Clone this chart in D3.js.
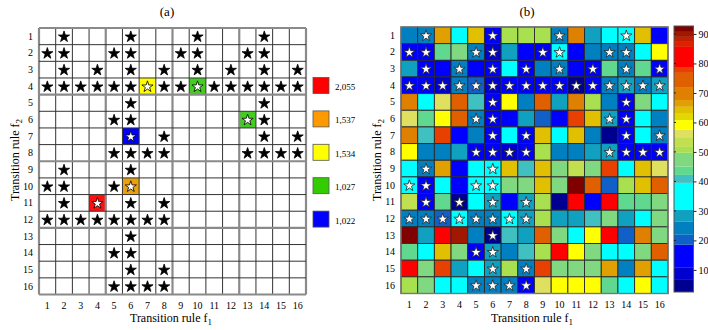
<!DOCTYPE html>
<html>
<head>
<meta charset="utf-8">
<script src="https://cdn.jsdelivr.net/npm/d3@7"></script>
<style>
  body { margin: 0; background: #fff; }
  svg { display: block; font-family: "Liberation Serif", "DejaVu Serif", serif; }
</style>
</head>
<body>
<div id="plot-container"></div>
<script>
var rules = d3.range(1, 17);

// f1 columns holding a star, one list per f2 row (same in both panels)
var starCols = [
  [2, 6, 10, 14],
  [1, 2, 5, 6, 9, 10, 13, 14],
  [2, 4, 6, 8, 10, 12, 14, 16],
  [1, 2, 3, 4, 5, 6, 7, 8, 9, 10, 11, 12, 13, 14, 15, 16],
  [6, 14],
  [5, 6, 13, 14],
  [6, 8, 14, 16],
  [5, 6, 7, 8, 13, 14, 15, 16],
  [2, 6],
  [1, 2, 5, 6],
  [2, 4, 6, 8],
  [1, 2, 3, 4, 5, 6, 7, 8],
  [6],
  [5, 6],
  [6, 8],
  [5, 6, 7, 8]
];

// highlighted cells of panel (a)
var markF1 = [4, 6, 7, 10, 13, 6];
var markF2 = [11, 10, 4, 4, 6, 7];
var markColor = ["#ff1010", "#e8a010", "#ffff00", "#44cc22", "#44cc22", "#0000ff"];

var legendLabels = ["2,055", "1,537", "1,534", "1,027", "1,022"];
var legendColors = ["#ff0000", "#ff9900", "#ffff00", "#33cc00", "#0000ff"];

// panel (b) values, rows f2 = 1..16, columns f1 = 1..16
var values = [
  [24, 23, 67, 35, 64, 14, 51, 51, 51, 24, 69, 28, 35, 35, 64, 14],
  [14, 14, 44, 47, 24, 8, 28, 14, 14, 37, 14, 24, 24, 25, 35, 59],
  [28, 14, 14, 24, 14, 14, 35, 14, 24, 24, 14, 14, 44, 24, 44, 14],
  [14, 14, 10, 24, 20, 7, 14, 14, 14, 13, 4, 13, 24, 27, 24, 27],
  [71, 35, 56, 72, 41, 14, 59, 24, 74, 28, 68, 51, 24, 14, 47, 35],
  [56, 44, 59, 74, 24, 14, 14, 28, 20, 14, 78, 64, 28, 14, 35, 24],
  [71, 41, 78, 14, 24, 14, 35, 14, 64, 35, 64, 24, 4, 14, 35, 24],
  [59, 24, 24, 28, 14, 14, 8, 14, 51, 24, 24, 28, 27, 14, 14, 14],
  [35, 22, 66, 14, 35, 35, 64, 41, 64, 47, 53, 47, 78, 35, 64, 56],
  [35, 14, 35, 14, 35, 35, 47, 47, 64, 47, 92, 74, 20, 51, 64, 73],
  [54, 14, 44, 4, 35, 28, 14, 27, 51, 4, 82, 14, 82, 44, 44, 47],
  [24, 24, 20, 35, 24, 24, 35, 27, 51, 28, 28, 41, 47, 28, 35, 47],
  [92, 28, 82, 89.5, 24, 4, 41, 28, 74, 47, 35, 59, 82, 20, 68, 47],
  [44, 35, 64, 47, 14, 28, 24, 41, 51, 82, 59, 47, 35, 35, 47, 73],
  [82, 47, 78, 28, 35, 27, 51, 24, 78, 47, 47, 47, 67, 24, 67, 35],
  [51, 47, 35, 35, 24, 24, 24, 14, 56, 59, 59, 59, 44, 35, 59, 35]
];

// colour bands of the colour bar
var bandBreaks = [2.5, 6.6, 10.7, 18.5, 21.9, 26.3, 30.3, 39.5, 42.2, 45, 49.7, 51.7, 55, 57.5,
                  60.8, 63.2, 65.3, 67.6, 72, 76.8, 78.8, 85.6, 87.3, 89, 90.7, 92.7];
var bandColors = ["#000090", "#0000d0", "#0000ff", "#1060c8", "#0080c0", "#10a0c0", "#00ffff",
                  "#40c0c0", "#60d890", "#80d880", "#a8e050", "#c0e050", "#e0e060", "#ffff00",
                  "#e0d800", "#e0c000", "#e0a000", "#e08000", "#e06000", "#e84000", "#ff0000",
                  "#e02000", "#c02000", "#a01800", "#800000"];
var barTicks = [10, 20, 30, 40, 50, 60, 70, 80, 90];

var svg = d3.select("#plot-container").append("svg")
  .attr("width", 708)
  .attr("height", 330);

var color = d3.scaleThreshold()
  .domain(bandBreaks.slice(1, -1))
  .range(bandColors);

var star = d3.symbol().type(d3.symbolStar).size(39);

function axisTitle(g, x, y, rotate, sub) {
  var t = g.append("text")
    .attr("transform", "translate(" + x + "," + y + ")" + (rotate ? " rotate(-90)" : ""))
    .attr("text-anchor", "middle")
    .attr("font-size", 12)
    .text("Transition rule f");
  t.append("tspan").attr("dy", 3).attr("font-size", 9).text(sub);
}

function tickLabels(g, x, y) {
  g.selectAll(".xl").data(rules).enter().append("text")
    .attr("x", function(d){ return x(d) + x.bandwidth() / 2; })
    .attr("y", y.range()[1] + 14)
    .attr("text-anchor", "middle")
    .attr("font-size", 10)
    .text(function(d){ return d; });
  g.selectAll(".yl").data(rules).enter().append("text")
    .attr("x", x.range()[0] - 6)
    .attr("y", function(d){ return y(d) + y.bandwidth() / 2 + 3.5; })
    .attr("text-anchor", "end")
    .attr("font-size", 10)
    .text(function(d){ return d; });
}

function starList() {
  var out = [];
  starCols.forEach(function(cols, i){
    cols.forEach(function(c){ out.push({f1: c, f2: i + 1}); });
  });
  return out;
}

// ---------- panel (a)
var xa = d3.scaleBand().domain(rules).range([39, 306]);
var ya = d3.scaleBand().domain(rules).range([28, 294.5]);
var ga = svg.append("g");

ga.selectAll(".mark").data(markF1).enter().append("rect")
  .attr("x", function(d){ return xa(d); })
  .attr("y", function(d, i){ return ya(markF2[i]); })
  .attr("width", xa.bandwidth())
  .attr("height", ya.bandwidth())
  .attr("fill", function(d, i){ return markColor[i]; });

var edges = d3.range(0, 17);
ga.selectAll(".vl").data(edges).enter().append("line")
  .attr("x1", function(d){ return 39 + d * xa.bandwidth(); })
  .attr("x2", function(d){ return 39 + d * xa.bandwidth(); })
  .attr("y1", 28).attr("y2", 294.5)
  .attr("stroke", function(d){ return d % 4 == 0 ? "#8a8a8a" : "#333"; })
  .attr("stroke-width", function(d){ return d % 4 == 0 ? 2.2 : 1; });
ga.selectAll(".hl").data(edges).enter().append("line")
  .attr("y1", function(d){ return 28 + d * ya.bandwidth(); })
  .attr("y2", function(d){ return 28 + d * ya.bandwidth(); })
  .attr("x1", 39).attr("x2", 306)
  .attr("stroke", function(d){ return d % 4 == 0 ? "#8a8a8a" : "#333"; })
  .attr("stroke-width", function(d){ return d % 4 == 0 ? 2.2 : 1; });

ga.selectAll(".star").data(starList()).enter().append("path")
  .attr("d", star)
  .attr("transform", function(d){
    return "translate(" + (xa(d.f1) + xa.bandwidth() / 2) + "," + (ya(d.f2) + ya.bandwidth() / 2 + 0.5) + ")";
  })
  .attr("fill", function(d){
    for (var i = 0; i < markF1.length; i++) {
      if (markF1[i] == d.f1 && markF2[i] == d.f2) return "#fff";
    }
    return "#000";
  })
  .attr("stroke", "#000")
  .attr("stroke-width", 0.8);

tickLabels(ga, xa, ya);
axisTitle(ga, 171, 322, false, "1");
axisTitle(ga, 19, 160, true, "2");
ga.append("text").attr("x", 167).attr("y", 16).attr("text-anchor", "middle")
  .attr("font-size", 13).text("(a)");

var legend = ga.selectAll(".leg").data(legendLabels).enter().append("g")
  .attr("transform", function(d, i){ return "translate(313," + (77.5 + i * 33.4) + ")"; });
legend.append("rect")
  .attr("width", 16).attr("height", 16)
  .attr("fill", function(d, i){ return legendColors[i]; })
  .attr("stroke", "#555").attr("stroke-width", 0.8);
legend.append("text")
  .attr("x", 22).attr("y", 12.5)
  .attr("font-size", 9)
  .text(function(d){ return d; });

// ---------- panel (b)
var xb = d3.scaleBand().domain(rules).range([401, 668]);
var yb = d3.scaleBand().domain(rules).range([27, 293.5]);
var gb = svg.append("g");

var cells = [];
values.forEach(function(row, i){
  row.forEach(function(v, j){ cells.push({f1: j + 1, f2: i + 1, v: v}); });
});

gb.selectAll(".cell").data(cells).enter().append("rect")
  .attr("x", function(d){ return xb(d.f1); })
  .attr("y", function(d){ return yb(d.f2); })
  .attr("width", xb.bandwidth())
  .attr("height", yb.bandwidth())
  .attr("fill", function(d){ return color(d.v); })
  .attr("stroke", "#2a2a2a")
  .attr("stroke-width", 0.9);

gb.append("rect")
  .attr("x", 401).attr("y", 27).attr("width", 267).attr("height", 266.5)
  .attr("fill", "none").attr("stroke", "#777").attr("stroke-width", 1.4);

gb.selectAll(".star").data(starList()).enter().append("path")
  .attr("d", star)
  .attr("transform", function(d){
    return "translate(" + (xb(d.f1) + xb.bandwidth() / 2) + "," + (yb(d.f2) + yb.bandwidth() / 2 + 0.5) + ")";
  })
  .attr("fill", "#fff")
  .attr("stroke", "#222")
  .attr("stroke-width", 0.8);

tickLabels(gb, xb, yb);
axisTitle(gb, 532, 322, false, "1");
axisTitle(gb, 381, 160, true, "2");
gb.append("text").attr("x", 527).attr("y", 16).attr("text-anchor", "middle")
  .attr("font-size", 13).text("(b)");

// colour bar
var cy = d3.scaleLinear().domain([2.5, 92.7]).range([292, 26]);
var bands = d3.range(bandColors.length);
gb.selectAll(".band").data(bands).enter().append("rect")
  .attr("x", 674).attr("width", 19.5)
  .attr("y", function(d){ return cy(bandBreaks[d + 1]); })
  .attr("height", function(d){ return cy(bandBreaks[d]) - cy(bandBreaks[d + 1]); })
  .attr("fill", function(d){ return bandColors[d]; });
gb.append("rect")
  .attr("x", 674).attr("y", 26).attr("width", 19.5).attr("height", 266)
  .attr("fill", "none").attr("stroke", "#555").attr("stroke-width", 1);

var cAxis = d3.axisRight(cy).tickValues(barTicks).tickSize(3).tickPadding(2);
var ca = gb.append("g").attr("transform", "translate(693.5,0)").call(cAxis);
ca.select(".domain").remove();
ca.selectAll("text").attr("font-size", 10).attr("font-family", "Liberation Serif").attr("fill", "#000");
ca.selectAll("line").attr("stroke", "#222");
gb.selectAll(".itick").data(barTicks).enter().append("line")
  .attr("x1", 674).attr("x2", 676)
  .attr("y1", function(d){ return cy(d); }).attr("y2", function(d){ return cy(d); })
  .attr("stroke", "#222");
</script>
</body>
</html>
